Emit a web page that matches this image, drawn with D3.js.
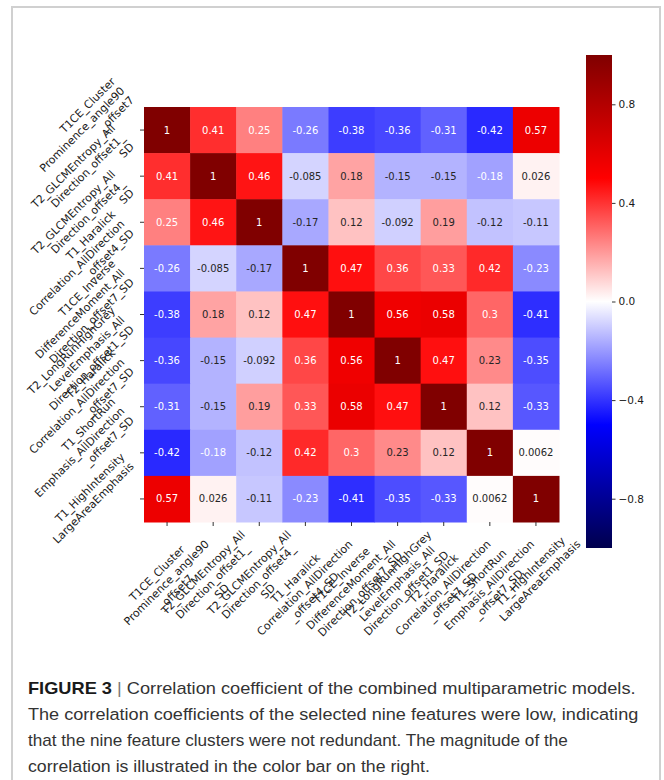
<!DOCTYPE html>
<html lang="en">
<head>
<meta charset="utf-8">
<title>Figure 3</title>
<script src="https://cdnjs.cloudflare.com/ajax/libs/d3/7.8.5/d3.min.js"></script>
<style>
  body { margin: 0; background: #fff; }
  svg { display: block; }
  .tick-label { font-family: "DejaVu Sans", sans-serif; font-size: 11px; fill: #1a1a1a; }
  .annot { font-family: "DejaVu Sans", sans-serif; font-size: 10px; }
  .caption { font-family: "Liberation Sans", Arial, sans-serif; font-size: 17px; fill: #333; }
</style>
</head>
<body>
<div id="chart"></div>
<script>
// feature names, each split over the lines used in the figure
const features = [
  ["T1CE_Cluster", "Prominence_angle90", "_offset7"],
  ["T2_GLCMEntropy_All", "Direction_offset1_", "SD"],
  ["T2_GLCMEntropy_All", "Direction_offset4_", "SD"],
  ["T1_Haralick", "Correlation_AllDirection", "_offset4_SD"],
  ["T1CE_Inverse", "DifferenceMoment_All", "Direction_offset7_SD"],
  ["T2_LongRunHighGrey", "LevelEmphasis_All", "Direction_offset1_SD"],
  ["T2_Haralick", "Correlation_AllDirection", "_offset7_SD"],
  ["T1_ShortRun", "Emphasis_AllDirection", "_offset7_SD"],
  ["T1_HighIntensity", "LargeAreaEmphasis"]
];

const corr = [
  [1, 0.41, 0.25, -0.26, -0.38, -0.36, -0.31, -0.42, 0.57],
  [0.41, 1, 0.46, -0.085, 0.18, -0.15, -0.15, -0.184, 0.026],
  [0.25, 0.46, 1, -0.17, 0.12, -0.092, 0.19, -0.12, -0.11],
  [-0.26, -0.085, -0.17, 1, 0.47, 0.36, 0.33, 0.42, -0.23],
  [-0.38, 0.18, 0.12, 0.47, 1, 0.56, 0.58, 0.3, -0.41],
  [-0.36, -0.15, -0.092, 0.36, 0.56, 1, 0.47, 0.23, -0.35],
  [-0.31, -0.15, 0.19, 0.33, 0.58, 0.47, 1, 0.12, -0.33],
  [-0.42, -0.184, -0.12, 0.42, 0.3, 0.23, 0.12, 1, 0.0062],
  [0.57, 0.026, -0.11, -0.23, -0.41, -0.35, -0.33, 0.0062, 1]
];

const colorbarTicks = [-0.8, -0.4, 0, 0.4, 0.8];

const captionTitle = "FIGURE 3";
const captionLines = [
  "Correlation coefficient of the combined multiparametric models.",
  "The correlation coefficients of the selected nine features were low, indicating",
  "that the nine feature clusters were not redundant. The magnitude of the",
  "correlation is illustrated in the color bar on the right."
];

const width = 664;
const height = 780;

const svg = d3.select("#chart")
  .append("svg")
  .attr("width", width)
  .attr("height", height);

// page frame
svg.append("path")
  .attr("d", "M12,782V7H660V782")
  .attr("fill", "none")
  .attr("stroke", "#d0d0d0")
  .attr("stroke-width", 2);

const x = d3.scaleBand().domain(d3.range(features.length)).range([144, 559]);
const y = d3.scaleBand().domain(d3.range(features.length)).range([107, 522]);

// matplotlib "seismic"
const color = d3.scaleLinear()
  .domain([-1, -0.5, 0, 0.5, 1])
  .range(["#00004d", "#0000ff", "#ffffff", "#ff0000", "#800000"]);

function luminance(c) {
  const rgb = d3.rgb(c);
  const lin = v => {
    v = v / 255;
    return v <= 0.03928 ? v / 12.92 : Math.pow((v + 0.055) / 1.055, 2.4);
  };
  return 0.2126 * lin(rgb.r) + 0.7152 * lin(rgb.g) + 0.0722 * lin(rgb.b);
}

const fmt = v => d3.format(".2")(v).replace("\u2212", "-");

const cells = [];
corr.forEach((row, i) => row.forEach((v, j) => cells.push({ i, j, v })));

svg.append("g")
  .selectAll("rect")
  .data(cells)
  .join("rect")
    .attr("x", d => x(d.j))
    .attr("y", d => y(d.i))
    .attr("width", x.bandwidth() + 0.5)
    .attr("height", y.bandwidth() + 0.5)
    .attr("fill", d => color(d.v));

svg.append("g")
  .selectAll("text")
  .data(cells)
  .join("text")
    .attr("class", "annot")
    .attr("x", d => x(d.j) + x.bandwidth() / 2)
    .attr("y", d => y(d.i) + y.bandwidth() / 2)
    .attr("dy", "0.35em")
    .attr("text-anchor", "middle")
    .attr("fill", d => luminance(color(d.v)) > 0.408 ? "#262626" : "#ffffff")
    .text(d => fmt(d.v));

// tick marks
const xAxis = svg.append("g")
  .attr("transform", "translate(0,522)")
  .call(d3.axisBottom(x).tickSize(4).tickFormat(""));
const yAxis = svg.append("g")
  .attr("transform", "translate(144,0)")
  .call(d3.axisLeft(y).tickSize(4).tickFormat(""));
xAxis.select(".domain").remove();
yAxis.select(".domain").remove();
svg.selectAll(".tick line").attr("stroke", "#333");

// multi-line rotated labels, aligned on their rotated box like matplotlib
const fs = 11, lh = fs * 1.2;
function drawLabel(parent, lines, align, px, py) {
  const outer = parent.append("g").attr("transform", `translate(${px},${py})`);
  const inner = outer.append("g");
  const txt = inner.append("text")
    .attr("class", "tick-label")
    .attr("text-anchor", align === "right" ? "end" : "middle");
  lines.forEach((s, k) => txt.append("tspan").attr("x", 0).attr("y", k * lh).text(s));
  let wmax = 0;
  txt.selectAll("tspan").each(function() { wmax = Math.max(wmax, this.getComputedTextLength()); });
  const x0 = align === "right" ? -wmax : -wmax / 2;
  const x1 = align === "right" ? 0 : wmax / 2;
  const y0 = -0.76 * fs, y1 = (lines.length - 1) * lh + 0.24 * fs;
  const c = Math.SQRT1_2;
  const pts = [[x0, y0], [x1, y0], [x0, y1], [x1, y1]].map(([a, b]) => [c * (a + b), c * (b - a)]);
  const minX = d3.min(pts, p => p[0]), maxX = d3.max(pts, p => p[0]);
  const minY = d3.min(pts, p => p[1]), maxY = d3.max(pts, p => p[1]);
  let dx, dy;
  if (align === "right") { dx = -maxX; dy = -(minY + maxY) / 2; }
  else { dx = -(minX + maxX) / 2; dy = -minY; }
  inner.attr("transform", `translate(${dx},${dy}) rotate(-45)`);
}

const labelG = svg.append("g");
features.forEach((lines, i) => {
  drawLabel(labelG, lines, "right", 144 - 7.5, y(i) + y.bandwidth() / 2);
  drawLabel(labelG, lines, "center", x(i) + x.bandwidth() / 2, 522 + 7.5);
});

// colorbar
const cb = d3.scaleLinear().domain([-1, 1]).range([548, 55]);
const grad = svg.append("defs").append("linearGradient")
  .attr("id", "cbgrad")
  .attr("x1", 0).attr("y1", 1).attr("x2", 0).attr("y2", 0);
grad.selectAll("stop")
  .data(d3.range(0, 1.0001, 0.05))
  .join("stop")
    .attr("offset", d => d)
    .attr("stop-color", d => color(-1 + 2 * d));

svg.append("rect")
  .attr("x", 586)
  .attr("y", cb(1))
  .attr("width", 26)
  .attr("height", cb(-1) - cb(1))
  .attr("fill", "url(#cbgrad)");

const cbAxis = svg.append("g")
  .attr("transform", "translate(612,0)")
  .call(d3.axisRight(cb).tickValues(colorbarTicks).tickSize(3.5).tickPadding(3).tickFormat(d3.format(".1f")));
cbAxis.select(".domain").remove();
cbAxis.selectAll(".tick line").attr("stroke", "#333");
cbAxis.selectAll("text")
  .attr("font-family", "DejaVu Sans, sans-serif")
  .attr("font-size", 10.5)
  .attr("fill", "#1a1a1a");

// caption
const capLeft = 28;
const capBase = [694, 720, 746, 772];
const capRight = [636, 639, 568, 430];
captionLines.forEach((s, k) => {
  const t = svg.append("text").attr("class", "caption");
  if (k === 0) {
    t.append("tspan").attr("font-weight", "bold").attr("fill", "#1a1a1a").text(captionTitle);
    t.append("tspan").attr("fill", "#777").text(" | ");
  }
  t.append("tspan").text(s);
  const w = t.node().getComputedTextLength();
  const sx = (capRight[k] - capLeft) / w;
  t.attr("transform", `translate(${capLeft},${capBase[k]}) scale(${sx},1)`);
});
</script>
</body>
</html>
